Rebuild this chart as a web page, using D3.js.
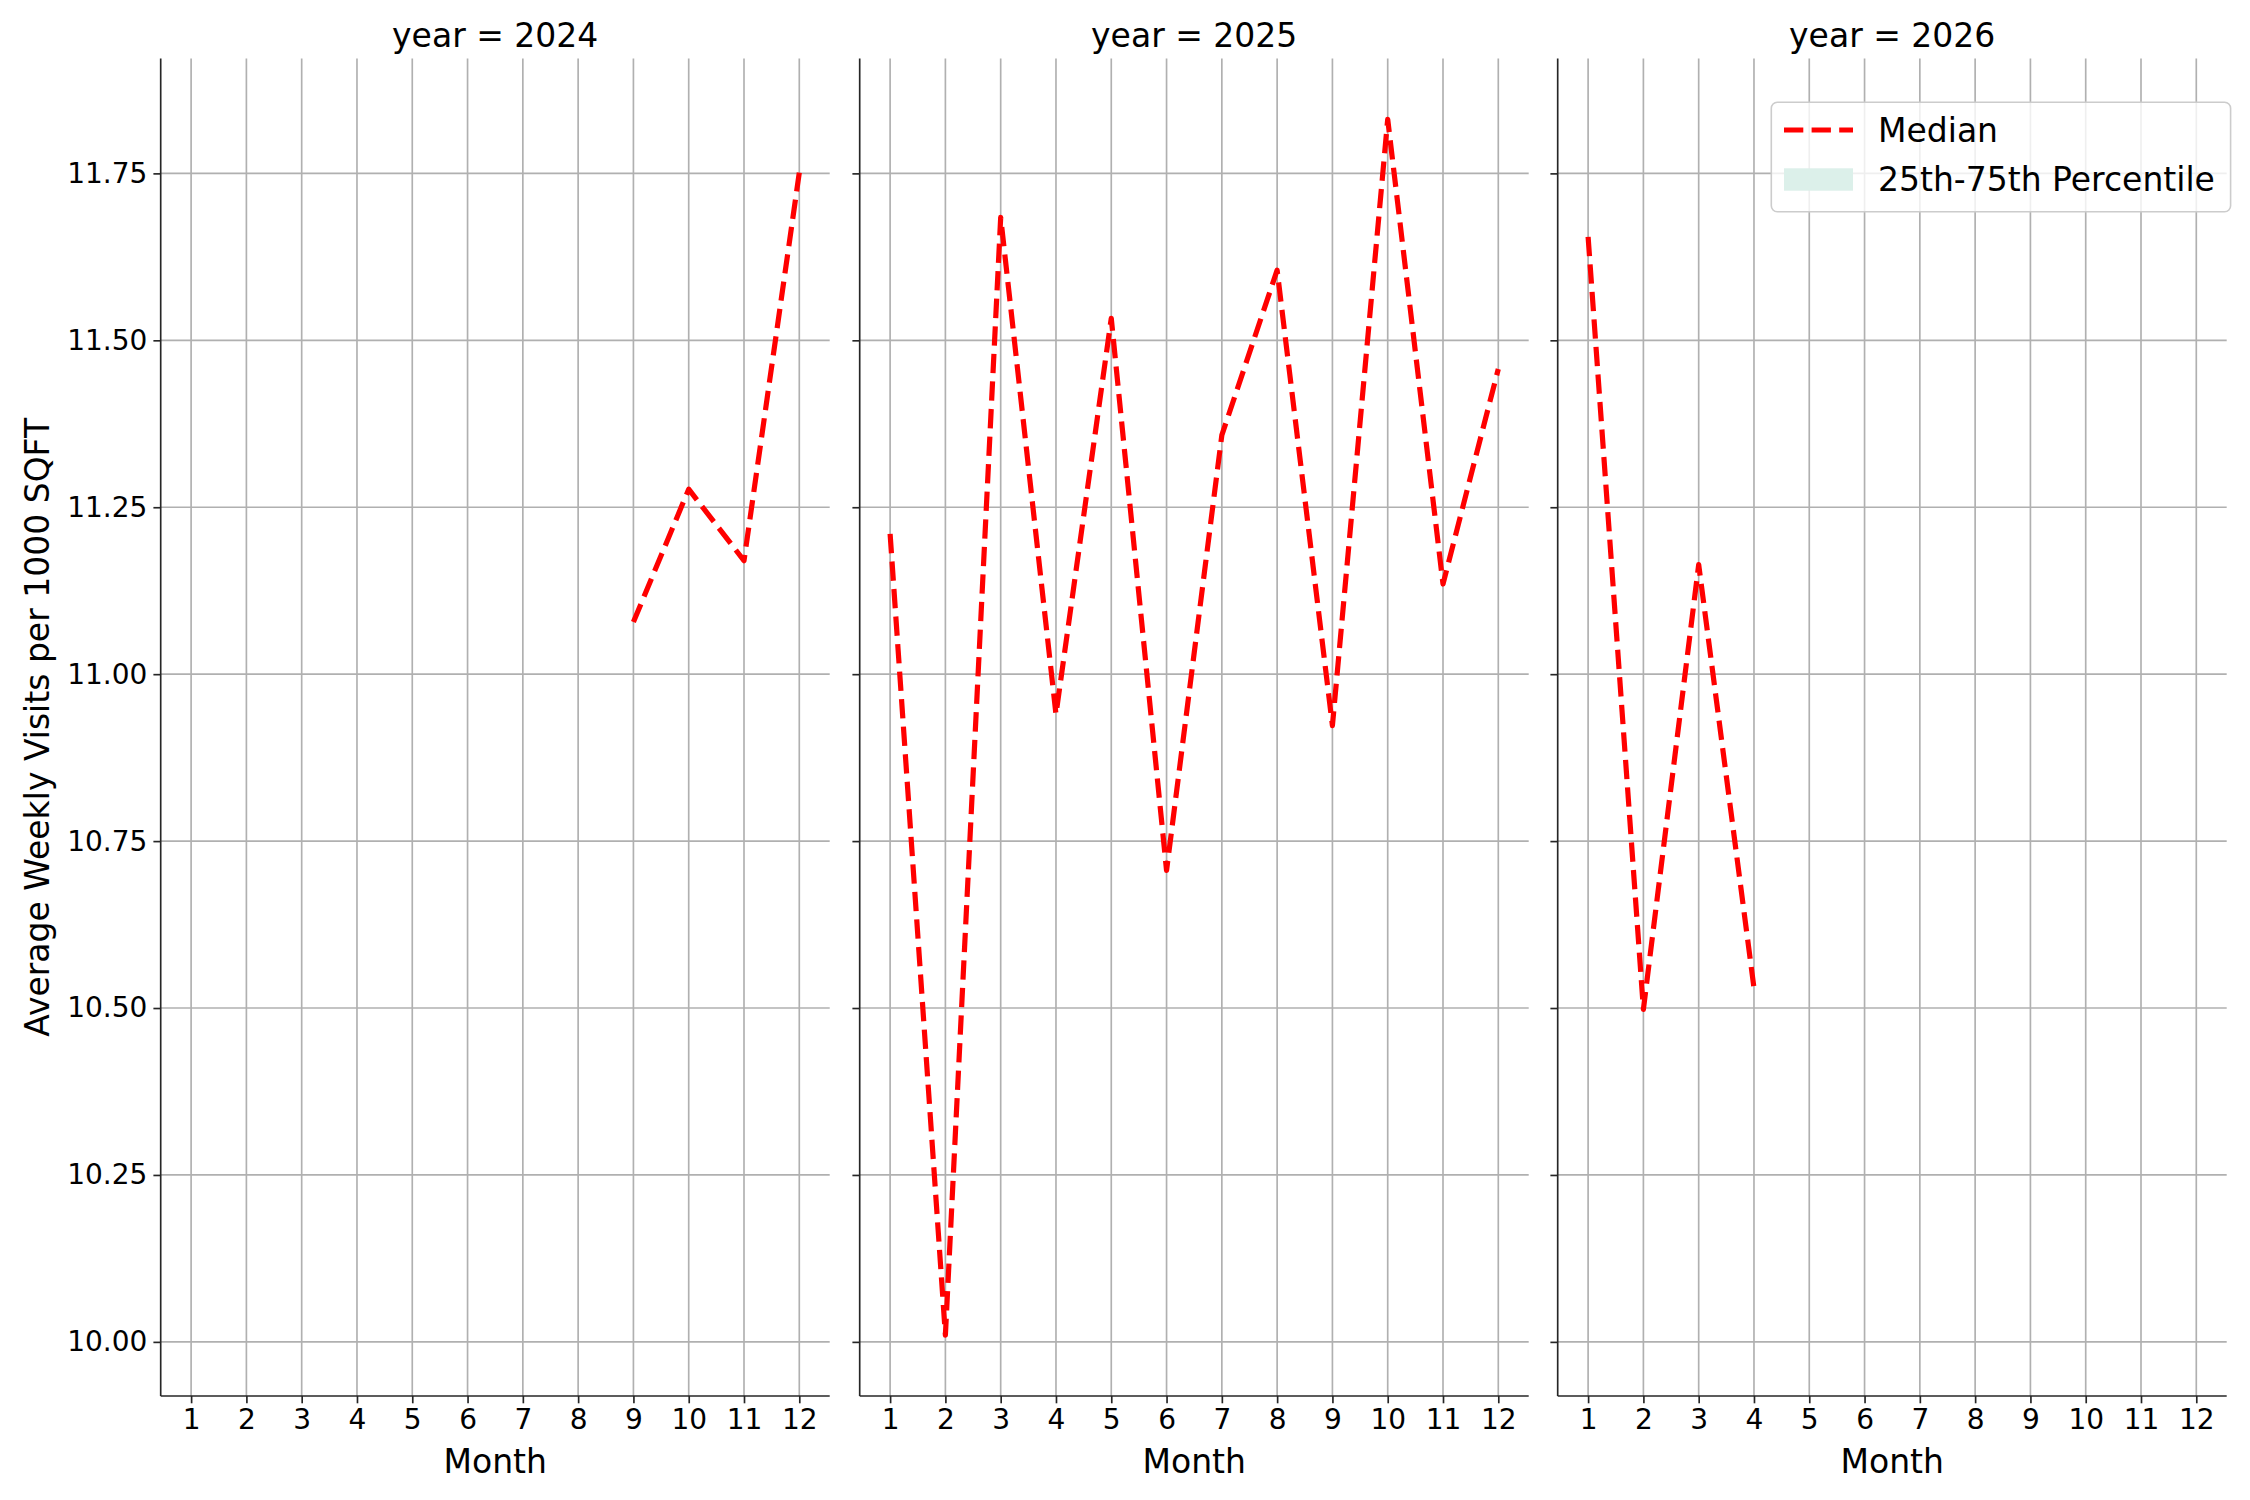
<!DOCTYPE html>
<html>
<head>
<meta charset="utf-8">
<script src="https://cdn.jsdelivr.net/npm/d3@7"></script>
<style>
    body { margin: 0; background: #fff; }
    svg text { font-family: "DejaVu Sans", sans-serif; fill: #000; }
</style>
</head>
<body>
<svg id="chart" width="2250" height="1500"></svg>
<script>
// data
const years= [2024, 2025, 2026]
const month_ticks= [1, 2, 3, 4, 5, 6, 7, 8, 9, 10, 11, 12]
const value_ticks= [10.00, 10.25, 10.50, 10.75, 11.00, 11.25, 11.50, 11.75]

const months_2024= [9, 10, 11, 12]
const median_2024= [11.078, 11.277, 11.170, 11.751]

const months_2025= [1, 2, 3, 4, 5, 6, 7, 8, 9, 10, 11, 12]
const median_2025= [11.210, 10.010, 11.684, 10.940, 11.533, 10.706, 11.358, 11.605, 10.923, 11.831, 11.135, 11.457]

const months_2026= [1, 2, 3, 4]
const median_2026= [11.655, 10.498, 11.164, 10.530]

// 25th-75th band has no values in the reference, only a legend entry
const band_2024= []
const band_2025= []
const band_2026= []

const series= [
    {year: years[0], months: months_2024, median: median_2024, band: band_2024},
    {year: years[1], months: months_2025, median: median_2025, band: band_2025},
    {year: years[2], months: months_2026, median: median_2026, band: band_2026},
]

// layout
const panel_left= [160.7, 859.7, 1557.7]
const panel_w= 669
const plot_top= 58.5
const plot_bottom= 1396
const tick_len= 7.3
const spine_col= "#262626"
const grid_col= "#b0b0b0"

const svg= d3.select("#chart")

// shared scales (sharex / sharey), 5% margins like matplotlib
const x= d3.scaleLinear()
    .domain([0.45, 12.55])
    .range([0, panel_w])

const all_vals= [].concat(median_2024, median_2025, median_2026)
const [vmin, vmax]= d3.extent(all_vals)
const pad= (vmax - vmin)*0.05
const y= d3.scaleLinear()
    .domain([vmin - pad, vmax + pad])
    .range([plot_bottom, plot_top])

const line= d3.line()
    .x(d => x(d[0]))
    .y(d => y(d[1]))

series.forEach((s, i) => {
    let g= svg.append("g")
        .attr("transform", `translate(${panel_left[i]},0)`)

    // grid
    g.append("g").selectAll("line")
        .data(month_ticks)
        .join("line")
        .attr("x1", d => x(d)).attr("x2", d => x(d))
        .attr("y1", plot_top).attr("y2", plot_bottom)
        .attr("stroke", grid_col).attr("stroke-width", 1.67)
    g.append("g").selectAll("line")
        .data(value_ticks)
        .join("line")
        .attr("x1", 0).attr("x2", panel_w)
        .attr("y1", d => y(d)).attr("y2", d => y(d))
        .attr("stroke", grid_col).attr("stroke-width", 1.67)

    // median line
    g.append("path")
        .datum(d3.zip(s.months, s.median))
        .attr("d", line)
        .attr("fill", "none")
        .attr("stroke", "red")
        .attr("stroke-width", 5.2)
        .attr("stroke-dasharray", "19.3 8.3")
        .attr("stroke-linejoin", "round")

    // x axis
    let xa= g.append("g")
        .attr("transform", `translate(0,${plot_bottom})`)
        .call(d3.axisBottom(x).tickValues(month_ticks).tickSize(tick_len).tickPadding(6).tickSizeOuter(0))
    xa.select(".domain").remove()
    xa.selectAll(".tick line").attr("stroke", spine_col).attr("stroke-width", 1.67)
    xa.selectAll(".tick text").attr("font-size", 28).attr("fill", "#000")
        .attr("font-family", "DejaVu Sans")

    // y axis (labels only on the first panel)
    let ya= g.append("g")
        .call(d3.axisLeft(y).tickValues(value_ticks).tickSize(tick_len).tickPadding(6)
            .tickFormat(i === 0 ? d3.format(".2f") : ""))
    ya.select(".domain").remove()
    ya.selectAll(".tick line").attr("stroke", spine_col).attr("stroke-width", 1.67)
    ya.selectAll(".tick text").attr("font-size", 28).attr("fill", "#000")
        .attr("font-family", "DejaVu Sans")

    // spines (left + bottom)
    g.append("line")
        .attr("x1", 0).attr("x2", 0).attr("y1", plot_top).attr("y2", plot_bottom)
        .attr("stroke", spine_col).attr("stroke-width", 1.67)
    g.append("line")
        .attr("x1", 0).attr("x2", panel_w).attr("y1", plot_bottom).attr("y2", plot_bottom)
        .attr("stroke", spine_col).attr("stroke-width", 1.67)

    // titles + labels
    g.append("text")
        .attr("x", panel_w/2).attr("y", 47)
        .attr("text-anchor", "middle")
        .attr("font-size", 33)
        .text(`year = ${s.year}`)
    g.append("text")
        .attr("x", panel_w/2).attr("y", 1473)
        .attr("text-anchor", "middle")
        .attr("font-size", 33)
        .text("Month")
})

svg.append("text")
    .attr("transform", `translate(49,${(plot_top + plot_bottom)/2}) rotate(-90)`)
    .attr("text-anchor", "middle")
    .attr("font-size", 33)
    .text("Average Weekly Visits per 1000 SQFT")

// legend (in the last panel)
let lg= svg.append("g")
lg.append("rect")
    .attr("x", 1771.3).attr("y", 102.3)
    .attr("width", 459.3).attr("height", 109.4)
    .attr("rx", 6)
    .attr("fill", "#fff").attr("fill-opacity", 0.8)
    .attr("stroke", "#cccccc").attr("stroke-width", 1.6)
lg.append("line")
    .attr("x1", 1784).attr("x2", 1853).attr("y1", 130).attr("y2", 130)
    .attr("stroke", "red").attr("stroke-width", 5.2)
    .attr("stroke-dasharray", "19.3 8.3")
lg.append("text")
    .attr("x", 1878).attr("y", 141.7)
    .attr("font-size", 33)
    .text("Median")
lg.append("rect")
    .attr("x", 1784).attr("y", 168.3)
    .attr("width", 69).attr("height", 22.4)
    .attr("fill", "#dcf0ea")
lg.append("text")
    .attr("x", 1878).attr("y", 190.7)
    .attr("font-size", 33)
    .text("25th-75th Percentile")
</script>
</body>
</html>
